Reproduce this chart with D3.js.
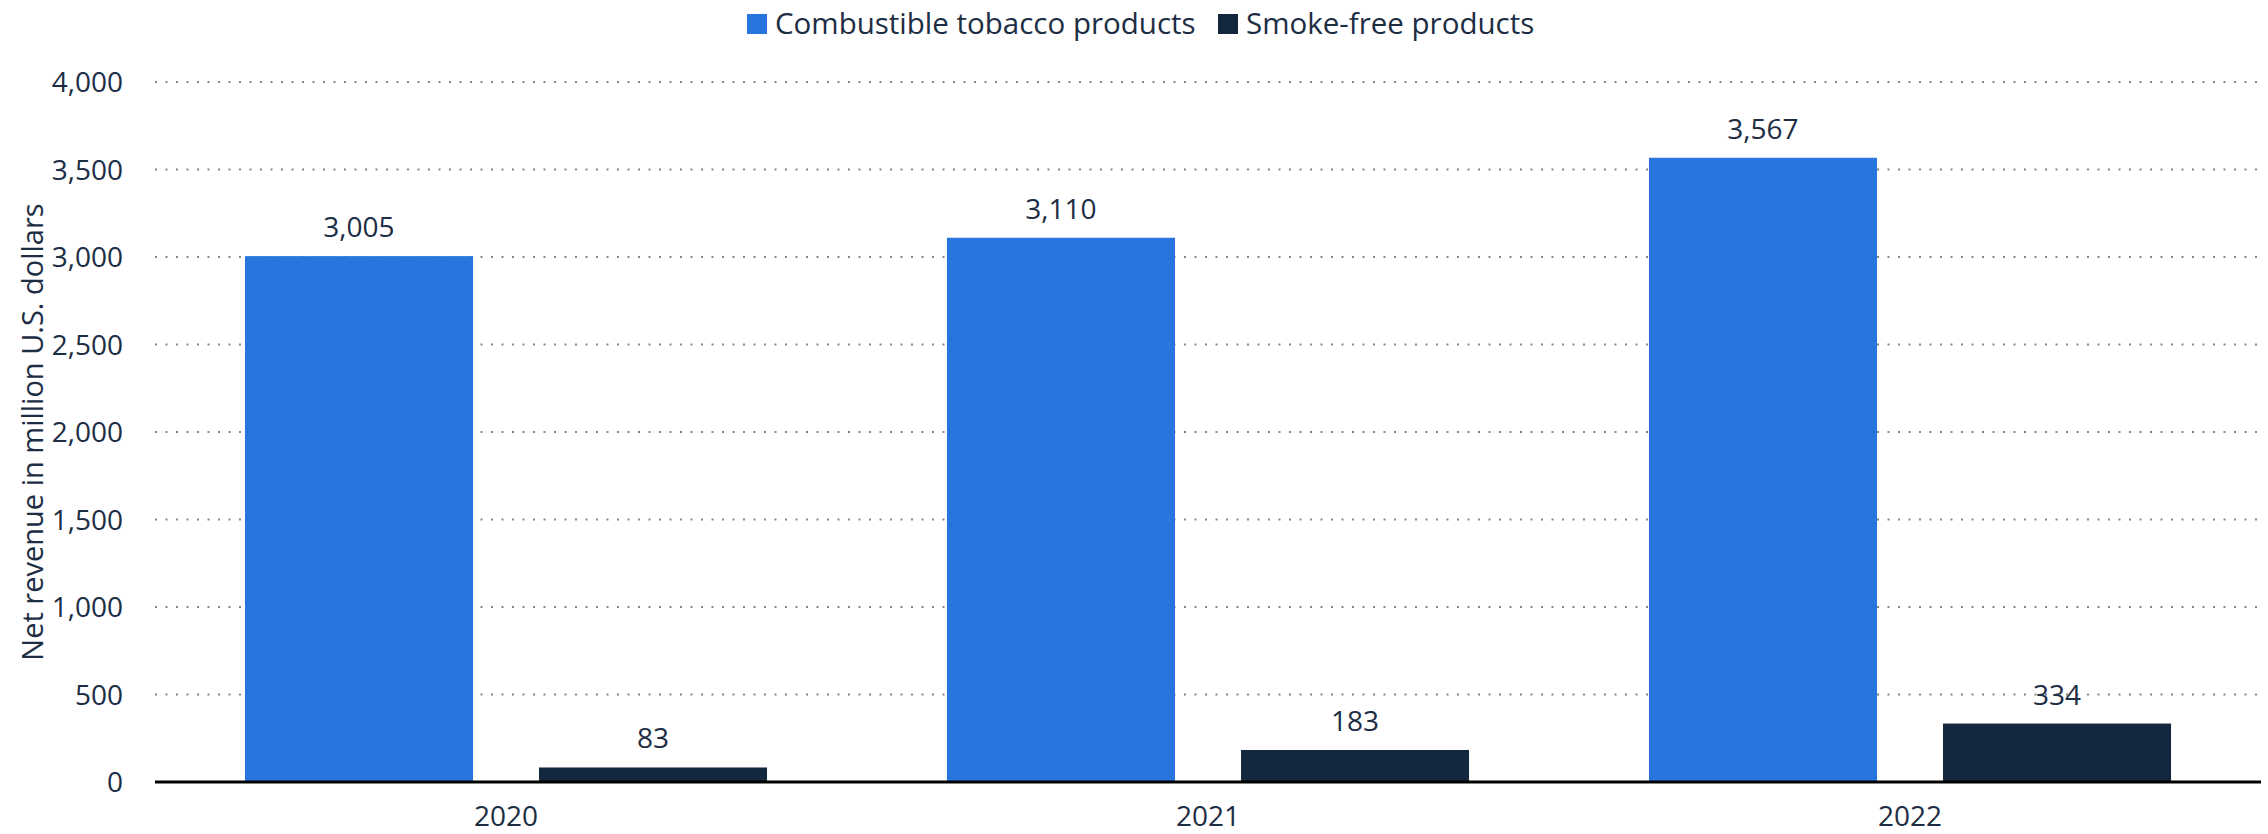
<!DOCTYPE html>
<html>
<head>
<meta charset="utf-8">
<script src="https://cdn.jsdelivr.net/npm/d3@7"></script>
<style>
  html, body { margin: 0; padding: 0; background: #fff; }
  svg { display: block; font-family: "Open Sans", sans-serif; }
</style>
</head>
<body>
<svg id="chart" width="2268" height="834"></svg>
<script>
const categories = ["2020", "2021", "2022"];
const seriesNames = ["Combustible tobacco products", "Smoke-free products"];
const combustible = [3005, 3110, 3567];
const smokeFree = [83, 183, 334];
const yTicks = [0, 500, 1000, 1500, 2000, 2500, 3000, 3500, 4000];
const colors = ["#2876dd", "#13283f"];
const yTitle = "Net revenue in million U.S. dollars";

const seriesValues = [combustible, smokeFree];
const textColor = "#1c2d44";

const W = 2268, H = 834;
const margin = { left: 155, right: 7, top: 82, bottom: 52 };
const svg = d3.select("#chart");

const x0 = d3.scaleBand().domain(categories).range([margin.left, W - margin.right]).paddingInner(0).paddingOuter(0);
const x1 = d3.scaleBand().domain(seriesNames).range([0, x0.bandwidth()]).paddingInner(0.2245).paddingOuter(0.306);
const y = d3.scaleLinear().domain([0, 4000]).range([H - margin.bottom, margin.top]);

// gridlines
svg.append("g").selectAll("line").data(yTicks.filter(d => d > 0)).join("line")
  .attr("x1", margin.left).attr("x2", W - margin.right)
  .attr("y1", d => y(d)).attr("y2", d => y(d))
  .attr("stroke", "#80868e").attr("stroke-width", 2).attr("stroke-dasharray", "2,8.5");

// y axis labels
const yAxis = d3.axisLeft(y).tickValues(yTicks).tickFormat(d3.format(",")).tickSize(0).tickPadding(0);
const yg = svg.append("g").attr("transform", `translate(${margin.left - 32},0)`).call(yAxis);
yg.select(".domain").remove();
yg.selectAll("text").attr("font-size", 28).attr("fill", textColor).attr("font-family", "Open Sans").attr("dy", "0.35em");

// y title
svg.append("text")
  .attr("transform", `translate(43,${(y(0) + y(4000)) / 2}) rotate(-90)`)
  .attr("text-anchor", "middle").attr("font-size", 29).attr("fill", textColor)
  .text(yTitle);

// bars
const groups = svg.append("g").selectAll("g").data(categories).join("g")
  .attr("transform", d => `translate(${x0(d)},0)`);

groups.selectAll("rect").data((c, i) => seriesNames.map((s, j) => ({ s, j, v: seriesValues[j][i] })))
  .join("rect")
  .attr("x", d => x1(d.s)).attr("width", x1.bandwidth())
  .attr("y", d => y(d.v)).attr("height", d => y(0) - y(d.v))
  .attr("fill", d => colors[d.j]);

groups.selectAll("text.val").data((c, i) => seriesNames.map((s, j) => ({ s, j, v: seriesValues[j][i] })))
  .join("text").attr("class", "val")
  .attr("x", d => x1(d.s) + x1.bandwidth() / 2)
  .attr("y", d => y(d.v) - 19)
  .attr("text-anchor", "middle").attr("font-size", 28).attr("fill", textColor)
  .text(d => d3.format(",")(d.v));

// baseline
svg.append("line").attr("x1", margin.left).attr("x2", W - margin.right)
  .attr("y1", y(0)).attr("y2", y(0)).attr("stroke", "#000").attr("stroke-width", 3);

// x axis
const xAxis = d3.axisBottom(x0).tickSize(0).tickPadding(0);
const xg = svg.append("g").attr("transform", `translate(0,${y(0)})`).call(xAxis);
xg.select(".domain").remove();
xg.selectAll("text").attr("font-size", 28).attr("fill", textColor).attr("font-family", "Open Sans")
  .attr("dy", null).attr("y", 44);

// legend
const legend = svg.append("g");
const legendPos = [747, 1218];
seriesNames.forEach((s, i) => {
  legend.append("rect").attr("x", legendPos[i]).attr("y", 14).attr("width", 20).attr("height", 20).attr("fill", colors[i]);
  legend.append("text").attr("x", legendPos[i] + 28).attr("y", 34).attr("font-size", 29.5).attr("fill", textColor).text(s);
});
</script>
</body>
</html>
